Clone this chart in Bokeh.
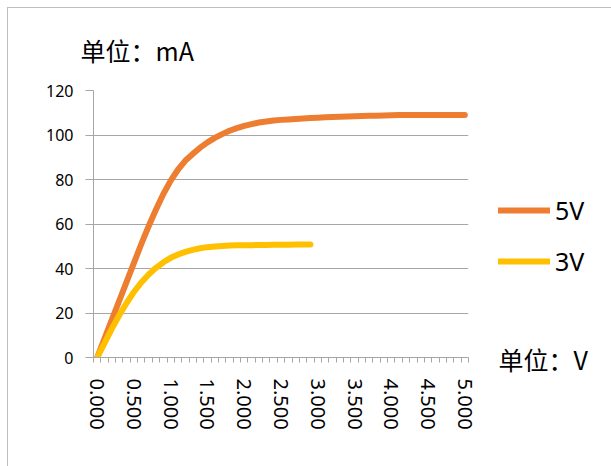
from bokeh.plotting import figure
from bokeh.layouts import row
from bokeh.models import (FixedTicker, PrintfTickFormatter, Legend, LegendItem, Title, Range1d)
from bokeh.embed import file_html
from bokeh.resources import INLINE

# ---- data ----
voltage = [0.0, 0.1, 0.2, 0.3, 0.4, 0.5, 0.6, 0.7, 0.8, 0.9,
           1.0, 1.1, 1.2, 1.3, 1.4, 1.5, 1.6, 1.7, 1.8, 1.9,
           2.0, 2.1, 2.2, 2.3, 2.4, 2.5, 2.6, 2.7, 2.8, 2.9,
           3.0, 3.1, 3.2, 3.3, 3.4, 3.5, 3.6, 3.7, 3.8, 3.9,
           4.0, 4.1, 4.2, 4.3, 4.4, 4.5, 4.6, 4.7, 4.8, 4.9, 5.0]

current_5v = [0, 8.5, 17, 25.5, 34, 42.5, 51, 59, 66.5, 73.5,
              79.5, 84.5, 88.5, 91.5, 94.3, 96.7, 98.7, 100.4, 101.9, 103.1,
              104.1, 104.9, 105.6, 106.1, 106.5, 106.8, 107.0, 107.2, 107.4, 107.6,
              107.8, 108, 108.1, 108.2, 108.3, 108.4, 108.5, 108.6, 108.7, 108.8,
              108.9, 109, 109, 109, 109, 109, 109, 109, 109, 109, 109]

voltage_3v = [0.0, 0.1, 0.2, 0.3, 0.4, 0.5, 0.6, 0.7, 0.8, 0.9,
              1.0, 1.1, 1.2, 1.3, 1.4, 1.5, 1.6, 1.7, 1.8, 1.9,
              2.0, 2.1, 2.2, 2.3, 2.4, 2.5, 2.6, 2.7, 2.8, 2.9]

current_3v = [0, 6.5, 13, 19, 24.5, 29.5, 33.7, 37.3, 40.3, 42.8,
              44.8, 46.3, 47.5, 48.4, 49.1, 49.6, 49.9, 50.1, 50.3, 50.4,
              50.5, 50.5, 50.6, 50.6, 50.7, 50.7, 50.7, 50.8, 50.8, 50.8]

y_ticks = [0, 20, 40, 60, 80, 100, 120]
x_label_ticks = [0.0, 0.5, 1.0, 1.5, 2.0, 2.5, 3.0, 3.5, 4.0, 4.5, 5.0]
# category boundaries (tick marks sit between categories)
x_boundaries = [-0.05, 0.05, 0.15, 0.25, 0.35, 0.45, 0.55, 0.65, 0.75, 0.85, 0.95,
                1.05, 1.15, 1.25, 1.35, 1.45, 1.55, 1.65, 1.75, 1.85, 1.95,
                2.05, 2.15, 2.25, 2.35, 2.45, 2.55, 2.65, 2.75, 2.85, 2.95,
                3.05, 3.15, 3.25, 3.35, 3.45, 3.55, 3.65, 3.75, 3.85, 3.95,
                4.05, 4.15, 4.25, 4.35, 4.45, 4.55, 4.65, 4.75, 4.85, 4.95, 5.05]

series_names = ["5V", "3V"]
series_colors = ["#ED7D31", "#FFC000"]
y_unit = "单位：mA"
x_unit = "单位：V"

# ---- main chart ----
GRID = "#A6A6A6"
p = figure(width=480, height=458, x_range=(-0.05, 5.05), y_range=(0, 120),
           output_backend="svg", toolbar_location=None,
           min_border_left=85, min_border_right=20,
           min_border_top=82, min_border_bottom=109)
p.outline_line_color = None
p.background_fill_color = "white"
p.border_fill_color = "white"

p.xgrid.visible = False
p.ygrid.grid_line_color = GRID
p.ygrid.grid_line_width = 1

# y axis
p.yaxis.ticker = FixedTicker(ticks=y_ticks)
p.yaxis.axis_line_color = GRID
p.yaxis.major_tick_line_color = GRID
p.yaxis.major_tick_out = 8
p.yaxis.major_tick_in = 0
p.yaxis.minor_tick_line_color = None
p.yaxis.major_label_text_font = "Noto Sans"
p.yaxis.major_label_text_font_size = "16px"
p.yaxis.major_label_text_color = "#000000"
p.yaxis.major_label_standoff = 12

# x axis
p.xaxis.ticker = FixedTicker(ticks=x_label_ticks, minor_ticks=x_boundaries)
p.xaxis.formatter = PrintfTickFormatter(format="%.3f")
p.xaxis.axis_line_color = GRID
p.xaxis.major_tick_out = 0
p.xaxis.major_tick_in = 0
p.xaxis.major_tick_line_color = None
p.xaxis.minor_tick_line_color = GRID
p.xaxis.minor_tick_out = 5
p.xaxis.minor_tick_in = 0
p.xaxis.major_label_orientation = "vertical"
p.xaxis.major_label_text_font = "Noto Sans"
p.xaxis.major_label_text_font_size = "20px"
p.xaxis.major_label_text_color = "#000000"
p.xaxis.major_label_standoff = 16

# lines
p.line(voltage, current_5v, line_color=series_colors[0], line_width=6,
       line_cap="round", line_join="round")
p.line(voltage_3v, current_3v, line_color=series_colors[1], line_width=6,
       line_cap="round", line_join="round")

p.add_layout(Title(text=y_unit, align="left", offset=-13, standoff=43,
                   vertical_align="middle",
                   text_font="Noto Sans CJK SC", text_font_size="25px",
                   text_font_style="normal", text_color="#000000"), "above")

# ---- legend panel (right side) ----
q = figure(width=123, height=458, x_range=Range1d(0, 1), y_range=Range1d(0, 1),
           output_backend="svg", toolbar_location=None,
           x_axis_type=None, y_axis_type=None,
           min_border_left=0, min_border_right=0, min_border_top=0, min_border_bottom=0)
q.outline_line_color = None
q.background_fill_color = "white"
q.border_fill_color = "white"

# legend keys (no visible data of their own)
k5 = q.line([float("nan")], [float("nan")], line_color=series_colors[0],
            line_width=6, line_cap="round")
k3 = q.line([float("nan")], [float("nan")], line_color=series_colors[1],
            line_width=6, line_cap="round")

legend = Legend(items=[LegendItem(label=series_names[0], renderers=[k5]),
                       LegendItem(label=series_names[1], renderers=[k3])],
                location=(10, 79), orientation="vertical",
                padding=0, margin=0, spacing=17,
                glyph_width=52, glyph_height=20, label_standoff=5,
                label_text_font="Noto Sans", label_text_font_size="25px",
                label_text_color="#000000", label_text_baseline="middle",
                border_line_color=None, background_fill_alpha=0)
q.add_layout(legend)

q.add_layout(Title(text=x_unit, align="left", offset=10, standoff=-34,
                   vertical_align="top",
                   text_font="Noto Sans CJK SC", text_font_size="25px",
                   text_font_style="normal", text_color="#000000"), "below")

layout = row(p, q)
layout.styles = {"margin": "8px 0px 0px 8px", "outline": "1px solid #BFBFBF"}

open("out.html", "w").write(file_html(layout, INLINE))
